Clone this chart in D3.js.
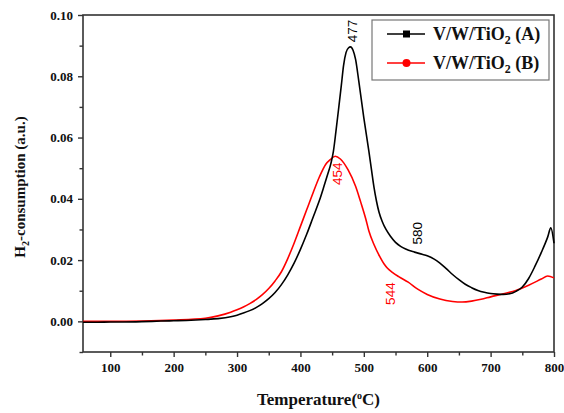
<!DOCTYPE html>
<html><head><meta charset="utf-8">
<script src="https://cdn.jsdelivr.net/npm/d3@7"></script>
<style>body{margin:0;background:#fff}svg{display:block}</style>
</head><body>
<script>
const tempA = [57,80,100,120,150,180,200,220,250,270,290,300,310,320,330,340,350,360,370,380,390,400,410,420,430,437,443,448,452,456,460,464.5,468,472,476,479,483,487,492,500,508,512,516,520,524,529,535,542,550,558,566,580,592,600,611,620,630,640,650,660,670,680,690,700,710,720,730,740,750,760,770,780,790,795,800];
const valA  = [-0.0003,-0.0003,-0.0002,-0.0002,-0.0001,0.0001,0.0002,0.0003,0.0006,0.0009,0.0015,0.0020,0.0027,0.0035,0.0045,0.0058,0.0074,0.0094,0.0120,0.0152,0.0190,0.0235,0.0285,0.0340,0.0395,0.0440,0.0480,0.0515,0.0555,0.0620,0.0690,0.0770,0.0835,0.0878,0.0893,0.0896,0.0885,0.0855,0.0785,0.0664,0.0555,0.0496,0.0438,0.0392,0.0356,0.0326,0.0300,0.0278,0.0258,0.0245,0.0236,0.0226,0.0219,0.0214,0.0203,0.0190,0.0172,0.0153,0.0136,0.0121,0.0110,0.0101,0.0095,0.0091,0.0089,0.0088,0.0090,0.0098,0.0112,0.0140,0.0180,0.0225,0.0275,0.0305,0.0255];
const tempB = [57,100,150,200,250,270,290,300,310,320,330,340,350,360,370,380,390,400,410,420,430,440,447,455,463,475,487,495,503,508,516,525,532,537,545,555,570,585,600,620,640,655,670,685,700,720,740,760,780,790,800];
const valB  = [0.0000,0.0000,0.0001,0.0004,0.0010,0.0018,0.0030,0.0038,0.0047,0.0058,0.0071,0.0087,0.0107,0.0132,0.0162,0.0205,0.0255,0.0310,0.0365,0.0420,0.0472,0.0513,0.0528,0.0539,0.0530,0.0495,0.0441,0.0390,0.0335,0.0295,0.0251,0.0212,0.0187,0.0174,0.0160,0.0146,0.0128,0.0105,0.0088,0.0073,0.0065,0.0063,0.0066,0.0072,0.0080,0.0090,0.0101,0.0118,0.0138,0.0148,0.0142];
const xTicks = [100,200,300,400,500,600,700,800];
const yTicks = [0.00,0.02,0.04,0.06,0.08,0.10];
const seriesNames = ["A","B"];
const peakLabels = [
  {text:"477", t:477, v:0.0895, dx:3, dy:-5, color:"#000"},
  {text:"454", t:454, v:0.0535, dx:3, dy:5, color:"#f00"},
  {text:"580", t:580, v:0.0225, dx:3, dy:-8, color:"#000"},
  {text:"544", t:544, v:0.0160, dx:-1, dy:10, color:"#f00"}
];

const W=564,H=413;
const svg=d3.select("body").append("svg").attr("width",W).attr("height",H);
const x=d3.scaleLinear().domain([57,800]).range([83,554]);
const y=d3.scaleLinear().domain([-0.01,0.10]).range([352,15]);
const tickFont="'Liberation Serif','Times New Roman',serif";

// frame
svg.append("rect").attr("x",83).attr("y",15).attr("width",471).attr("height",337)
  .attr("fill","none").attr("stroke","#333").attr("stroke-width",1.6);

// x axis
const gx=svg.append("g").attr("transform","translate(0,352)");
gx.call(d3.axisBottom(x).tickValues(xTicks).tickSize(5).tickPadding(6).tickFormat(d3.format("d")));
gx.append("g").call(d3.axisBottom(x).tickValues(d3.range(150,800,100)).tickSize(3.5).tickFormat(""));
// y axis
const gy=svg.append("g").attr("transform","translate(83,0)");
gy.call(d3.axisLeft(y).tickValues(yTicks).tickSize(5).tickPadding(5).tickFormat(d3.format(".2f")));
gy.append("g").call(d3.axisLeft(y).tickValues([-0.01,0.01,0.03,0.05,0.07,0.09]).tickSize(3.5).tickFormat(""));
svg.selectAll(".domain").remove();
svg.selectAll(".tick line").attr("stroke","#333").attr("stroke-width",1.4);
svg.selectAll(".tick text").attr("font-family",tickFont).attr("font-weight","bold")
  .attr("font-size",13).attr("fill","#111");

// lines
const line=d3.line().x(d=>x(d[0])).y(d=>y(d[1])).curve(d3.curveMonotoneX);
const dataA=tempA.map((t,i)=>[t,valA[i]]);
const dataB=tempB.map((t,i)=>[t,valB[i]]);
svg.append("path").datum(dataB).attr("d",line).attr("fill","none").attr("stroke","#f00").attr("stroke-width",1.6);
svg.append("path").datum(dataA).attr("d",line).attr("fill","none").attr("stroke","#000").attr("stroke-width",1.6);

// peak labels
peakLabels.forEach(p=>{
  const px=x(p.t)+p.dx, py=y(p.v)+p.dy;
  svg.append("text").attr("transform",`translate(${px},${py}) rotate(-90)`)
    .attr("text-anchor",p.dy<0?"start":"end").attr("dy","0.35em")
    .attr("font-family","'Liberation Sans',Arial,sans-serif").attr("font-size",13.5)
    .attr("fill",p.color).text(p.text);
});

// legend
const lg=svg.append("g");
lg.append("rect").attr("x",372).attr("y",20).attr("width",177).attr("height",60)
  .attr("fill","#fff").attr("stroke","#777").attr("stroke-width",1.2);
const legColors=["#000","#f00"];
seriesNames.forEach((s,i)=>{
  const ly=34+i*29;
  lg.append("line").attr("x1",387).attr("x2",425).attr("y1",ly).attr("y2",ly)
    .attr("stroke",legColors[i]).attr("stroke-width",1.6);
  if(i===0) lg.append("rect").attr("x",403).attr("y",ly-3.5).attr("width",7).attr("height",7).attr("fill","#000");
  else lg.append("circle").attr("cx",406.5).attr("cy",ly).attr("r",4).attr("fill","#f00");
  const t=lg.append("text").attr("x",433).attr("y",ly+6).attr("font-family",tickFont)
    .attr("font-weight","bold").attr("font-size",18).attr("fill","#111");
  t.append("tspan").text("V/W/TiO");
  t.append("tspan").attr("font-size",12).attr("dy",4).text("2");
  t.append("tspan").attr("dy",-4).text(` (${s})`);
});

// axis titles
const xt=svg.append("text").attr("x",318.5).attr("y",405).attr("text-anchor","middle")
  .attr("font-family",tickFont).attr("font-weight","bold").attr("font-size",17).attr("fill","#111");
xt.append("tspan").text("Temperature(");
xt.append("tspan").attr("font-size",10).attr("dy",-6).text("o");
xt.append("tspan").attr("dy",6).text("C)");

const yt=svg.append("text").attr("transform","translate(25,187) rotate(-90)").attr("text-anchor","middle")
  .attr("font-family",tickFont).attr("font-weight","bold").attr("font-size",15).attr("fill","#111");
yt.append("tspan").text("H");
yt.append("tspan").attr("font-size",10).attr("dy",4).text("2");
yt.append("tspan").attr("dy",-4).text("-consumption (a.u.)");
</script>
</body></html>
